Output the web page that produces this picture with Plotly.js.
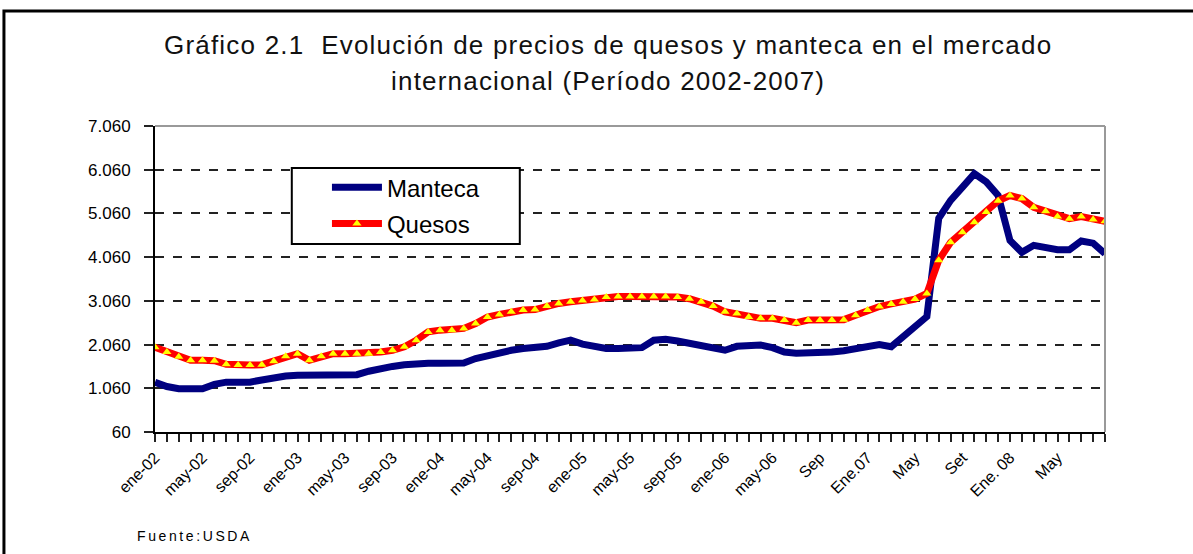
<!DOCTYPE html>
<html>
<head>
<meta charset="utf-8">
<script src="https://cdn.plot.ly/plotly-3.0.1.min.js"></script>
<style>
  html, body { margin: 0; padding: 0; background: #ffffff; }
  #chart { width: 1193px; height: 554px; }
</style>
</head>
<body>
<div id="chart"></div>
<script>
// ---- Data ----
const months = [
  "ene-02","feb-02","mar-02","abr-02","may-02","jun-02","jul-02","ago-02","sep-02","oct-02","nov-02","dic-02",
  "ene-03","feb-03","mar-03","abr-03","may-03","jun-03","jul-03","ago-03","sep-03","oct-03","nov-03","dic-03",
  "ene-04","feb-04","mar-04","abr-04","may-04","jun-04","jul-04","ago-04","sep-04","oct-04","nov-04","dic-04",
  "ene-05","feb-05","mar-05","abr-05","may-05","jun-05","jul-05","ago-05","sep-05","oct-05","nov-05","dic-05",
  "ene-06","feb-06","mar-06","abr-06","may-06","jun-06","jul-06","ago-06","sep-06","oct-06","nov-06","dic-06",
  "ene-07","feb-07","mar-07","abr-07","may-07","jun-07","jul-07","ago-07","sep-07","oct-07","nov-07","dic-07",
  "ene-08","feb-08","mar-08","abr-08","may-08","jun-08","jul-08","ago-08","sep-08"
];

const manteca = [
  1200,1100,1050,1050,1050,1150,1200,1200,1200,1250,1310,1340,
  1360,1360,1360,1360,1360,1370,1450,1520,1560,1600,1635,1635,
  1635,1635,1640,1740,1810,1860,1930,1970,1990,2020,2100,2160,
  2070,2010,1970,1970,1970,1990,2160,2180,2140,2090,2050,1970,
  1930,2020,2050,2050,1990,1890,1860,1860,1860,1890,1920,1970,
  2010,2060,2010,2240,2460,2700,4950,5360,5660,5970,5780,5470,
  4440,4170,4330,4270,4230,4230,4430,4380,4140
];

const quesos = [
  2000,1890,1780,1700,1700,1690,1610,1590,1590,1600,1680,1790,
  1850,1700,1790,1850,1850,1850,1850,1890,1930,2010,2160,2350,
  2390,2390,2430,2540,2690,2750,2810,2850,2860,2940,3000,3040,
  3070,3090,3150,3160,3160,3160,3160,3160,3150,3110,3040,2940,
  2810,2770,2690,2660,2660,2620,2560,2620,2620,2620,2630,2730,
  2850,2930,2990,3040,3100,3230,3990,4400,4630,4860,5090,5350,
  5470,5400,5200,5110,4990,4940,4990,4920,4880
];

// category labels shown under the axis (every 4th month)
const labelMonths = ["ene-02","may-02","sep-02","ene-03","may-03","sep-03","ene-04","may-04","sep-04","ene-05",
                     "may-05","sep-05","ene-06","may-06","sep-06","ene-07","may-07","sep-07","ene-08","may-08"];
const labelTexts  = ["ene-02","may-02","sep-02","ene-03","may-03","sep-03","ene-04","may-04","sep-04","ene-05",
                     "may-05","sep-05","ene-06","may-06","Sep","Ene.07","May","Set","Ene. 08","May"];

const yTickVals = [60,1060,2060,3060,4060,5060,6060,7060];
const yTickText = ["60","1.060","2.060","3.060","4.060","5.060","6.060","7.060"];

const titleLine1 = "Gráfico 2.1  Evolución de precios de quesos y manteca en el mercado";
const titleLine2 = "internacional (Período 2002-2007)";
const sourceText = "Fuente:USDA";

// ---- Build ----
const xTickText = months.map(m => {
  const k = labelMonths.indexOf(m);
  return k >= 0 ? labelTexts[k] : "";
});

const FONT = "Liberation Sans, Arial, sans-serif";
const spaced = (t, px) => '<span style="letter-spacing:' + px + 'px">' + t + '</span>';

const traces = [
  {
    x: months, y: manteca, name: "Manteca", type: "scatter", mode: "lines",
    line: { color: "#000080", width: 7 },
    legendgroup: "a"
  },
  {
    x: months, y: quesos, name: "Quesos", type: "scatter", mode: "lines+markers",
    line: { color: "#ff0000", width: 7 },
    marker: { symbol: "triangle-up", size: 8, color: "#ffff00", line: { width: 0 } },
    legendgroup: "b"
  }
];

const layout = {
  width: 1193, height: 554,
  paper_bgcolor: "#ffffff", plot_bgcolor: "#ffffff",
  margin: { l: 155, r: 88, t: 126, b: 122 },
  font: { family: FONT, color: "#000" },
  showlegend: true,
  xaxis: {
    type: "category",
    categoryorder: "array", categoryarray: months,
    range: [0, months.length - 1],
    tickmode: "array", tickvals: months, ticktext: xTickText,
    tickangle: -45,
    ticks: "outside", ticklen: 8, tickwidth: 2, tickcolor: "#222",
    tickfont: { family: FONT, size: 16, color: "#000" },
    showline: true, linecolor: "#000", linewidth: 2,
    showgrid: false, zeroline: false
  },
  yaxis: {
    range: [60, 7060],
    tickmode: "array", tickvals: yTickVals, ticktext: yTickText,
    ticks: "outside", ticklen: 9, tickwidth: 2, tickcolor: "#222",
    ticklabelstandoff: 10,
    tickfont: { family: FONT, size: 17, color: "#000" },
    showline: true, linecolor: "#000", linewidth: 2,
    showgrid: true, gridcolor: "#222", gridwidth: 2, griddash: "dash",
    zeroline: false
  },
  legend: {
    x: 0.181, y: 0.872, xanchor: "left", yanchor: "top",
    bgcolor: "rgba(0,0,0,0)", borderwidth: 0,
    font: { family: FONT, size: 24, color: "#000" },
    itemwidth: 50,
    tracegroupgap: 2
  },
  shapes: [
    { type: "line", xref: "paper", yref: "paper", x0: 0, x1: 1, y0: 1, y1: 1,
      line: { color: "#999", width: 2 }, layer: "above" },
    { type: "line", xref: "paper", yref: "paper", x0: 1, x1: 1, y0: 0, y1: 1,
      line: { color: "#999", width: 2 }, layer: "above" },
    { type: "rect", xref: "paper", yref: "paper", x0: -0.159, x1: 1.2, y0: -0.6, y1: 1.376,
      line: { color: "#000", width: 3 }, layer: "below" },
    // legend frame
    { type: "rect", xref: "paper", yref: "paper", x0: 0.144, x1: 0.384, y0: 0.614, y1: 0.863,
      line: { color: "#000", width: 2 }, fillcolor: "#ffffff", layer: "above" }
  ],
  annotations: [
    { text: spaced(titleLine1, 1.2), xref: "paper", yref: "paper", x: 0.477, y: 1.265,
      xanchor: "center", yanchor: "middle", showarrow: false,
      font: { family: FONT, size: 26, color: "#111" } },
    { text: spaced(titleLine2, 1.2), xref: "paper", yref: "paper", x: 0.477, y: 1.147,
      xanchor: "center", yanchor: "middle", showarrow: false,
      font: { family: FONT, size: 26, color: "#111" } },
    { text: spaced(sourceText, 2.6), xref: "paper", yref: "paper", x: -0.021, y: -0.34,
      xanchor: "left", yanchor: "middle", showarrow: false,
      font: { family: FONT, size: 14, color: "#000" } }
  ]
};

Plotly.newPlot("chart", traces, layout, { displayModeBar: false, staticPlot: true });
</script>
</body>
</html>
